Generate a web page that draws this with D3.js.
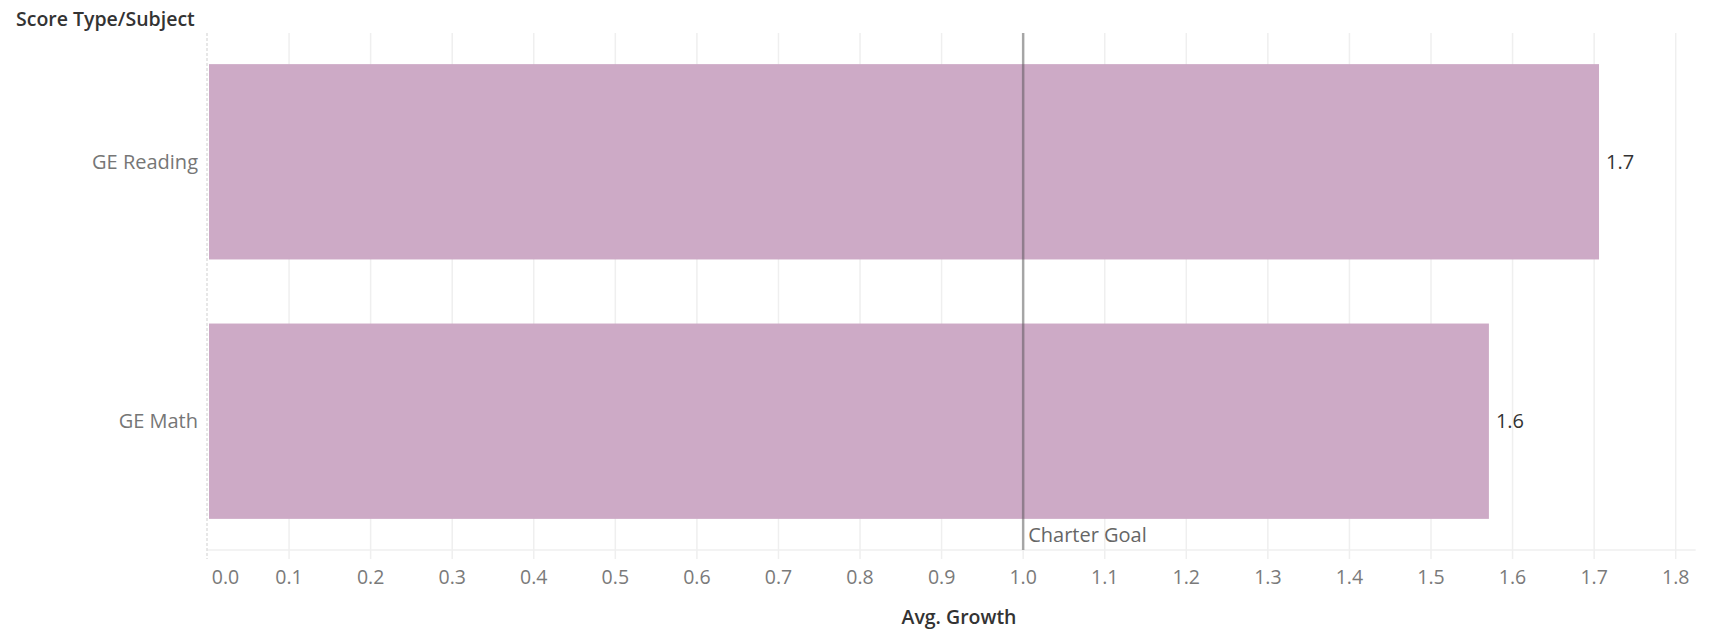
<!DOCTYPE html>
<html>
<head>
<meta charset="utf-8">
<script src="https://cdn.jsdelivr.net/npm/d3@7"></script>
<style>
  html, body { margin: 0; padding: 0; background: #fff; }
  svg { display: block; }
  text { font-family: "Open Sans", "Noto Sans", sans-serif; }
</style>
</head>
<body>
<svg id="chart" width="1717" height="633"></svg>
<script>
// Average growth per score type / subject
const categories = ["GE Reading", "GE Math"];
const avgGrowth = [1.706, 1.571];
const xTicks = [0, 0.1, 0.2, 0.3, 0.4, 0.5, 0.6, 0.7, 0.8, 0.9, 1.0, 1.1, 1.2, 1.3, 1.4, 1.5, 1.6, 1.7, 1.8];
const charterGoal = 1.0;

const W = 1717, H = 633;
const margin = { top: 33, right: 24, bottom: 83, left: 207.5 };
const svg = d3.select("#chart");

const x = d3.scaleLinear().domain([0, 1.8]).range([margin.left, 1675.7]);
const y = d3.scaleBand().domain(categories).range([margin.top, H - margin.bottom])
  .paddingInner(0.247).paddingOuter(0.12);
const plotRight = x(1.8) + 20;
const plotBottom = H - margin.bottom;

// vertical gridlines, extended slightly below the axis line
svg.append("g").selectAll("line").data(xTicks.slice(1)).join("line")
  .attr("x1", d => x(d)).attr("x2", d => x(d))
  .attr("y1", margin.top).attr("y2", plotBottom + 9)
  .attr("stroke", "#efefef").attr("stroke-width", 1.5);

// horizontal axis baseline
svg.append("line")
  .attr("x1", margin.left).attr("x2", plotRight)
  .attr("y1", plotBottom).attr("y2", plotBottom)
  .attr("stroke", "#efefef").attr("stroke-width", 1.5);

// zero line (dashed)
svg.append("line")
  .attr("x1", x(0) - 0.5).attr("x2", x(0) - 0.5)
  .attr("y1", margin.top).attr("y2", plotBottom + 9)
  .attr("stroke", "#cfcfcf").attr("stroke-width", 1)
  .attr("stroke-dasharray", "3,2");

// bars
svg.append("g").selectAll("rect").data(categories).join("rect")
  .attr("x", x(0) + 1.5)
  .attr("y", d => y(d))
  .attr("width", (d, i) => x(avgGrowth[i]) - x(0) - 1.5)
  .attr("height", y.bandwidth())
  .attr("fill", "#cdaac6");

// value labels at bar ends
const fmt = d3.format(".1f");
svg.append("g").selectAll("text").data(categories).join("text")
  .attr("x", (d, i) => x(avgGrowth[i]) + 7)
  .attr("y", d => y(d) + y.bandwidth() / 2)
  .attr("dy", "0.35em")
  .attr("font-size", 20)
  .attr("fill", "#333")
  .text((d, i) => fmt(avgGrowth[i]));

// category labels
svg.append("g").selectAll("text").data(categories).join("text")
  .attr("x", 198)
  .attr("y", d => y(d) + y.bandwidth() / 2)
  .attr("dy", "0.35em")
  .attr("text-anchor", "end")
  .attr("font-size", 20)
  .attr("fill", "#767676")
  .text(d => d);

// reference line for the charter goal
svg.append("line")
  .attr("x1", x(charterGoal)).attr("x2", x(charterGoal))
  .attr("y1", margin.top).attr("y2", plotBottom)
  .attr("stroke", "rgb(70,70,70)").attr("stroke-opacity", 0.45)
  .attr("stroke-width", 2.5);
svg.append("text")
  .attr("x", x(charterGoal) + 5)
  .attr("y", plotBottom - 8)
  .attr("font-size", 20)
  .attr("fill", "#666")
  .text("Charter Goal");

// x-axis tick labels
const tickFmt = d3.format(".1f");
svg.append("g").selectAll("text").data(xTicks).join("text")
  .attr("x", d => d === 0 ? x(d) + 18 : x(d))
  .attr("y", 577)
  .attr("dy", "0.35em")
  .attr("text-anchor", "middle")
  .attr("font-size", 19.5)
  .attr("fill", "#7a7a7a")
  .text(d => tickFmt(d));

// axis titles
svg.append("text")
  .attr("x", 16).attr("y", 26)
  .attr("font-size", 19.5).attr("font-weight", 600)
  .attr("fill", "#333")
  .text("Score Type/Subject");

svg.append("text")
  .attr("x", 959).attr("y", 624)
  .attr("text-anchor", "middle")
  .attr("font-size", 19.5).attr("font-weight", 600)
  .attr("fill", "#333")
  .text("Avg. Growth");
</script>
</body>
</html>
